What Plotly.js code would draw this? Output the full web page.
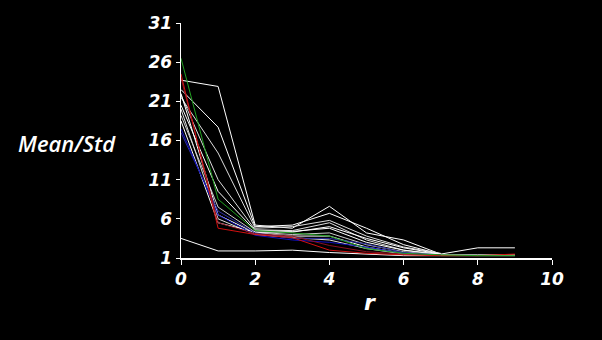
<!DOCTYPE html>
<html>
<head>
<meta charset="utf-8">
<script src="https://cdn.plot.ly/plotly-3.0.1.min.js"></script>
<style>html,body{margin:0;padding:0;background:#000;}#chart{width:602px;height:340px;}</style>
</head>
<body>
<div id="chart"></div>
<script>
// r values (x axis)
var rValues = [0, 1, 2, 3, 4, 5, 6, 7, 8, 9];
// Mean/Std series
var seriesGreen    = [26.5, 8.5, 4.5, 4.2, 3.8, 2.2, 1.6, 1.4, 1.3, 1.3];
var seriesRed      = [24.5, 4.8, 4.0, 3.6, 2.0, 1.6, 1.4, 1.3, 1.3, 1.5];
var seriesBlue     = [17.5, 6.5, 3.9, 3.3, 3.0, 2.4, 1.6, 1.3];
var seriesDarkRed  = [24.0, 5.5, 4.1, 3.8, 2.6, 1.8, 1.5, 1.4];
var seriesDarkBlue = [17.0, 7.0, 4.2, 3.5, 3.5, 2.8, 1.7, 1.4];
var seriesW1 = [23.7, 22.9, 5.2, 4.8, 7.6, 4.2, 3.3, 1.5];
var seriesW2 = [22.5, 17.7, 5.0, 5.2, 6.7, 4.8, 2.7, 1.5, 2.3, 2.3];
var seriesW3 = [21.5, 14.4, 4.8, 5.0, 5.8, 3.8, 2.4, 1.6];
var seriesW4 = [21.8, 11.0, 4.6, 4.5, 5.5, 3.3, 2.0, 1.5];
var seriesW5 = [20.5, 9.5, 4.5, 4.4, 4.8, 3.0, 2.0, 1.4, 1.4, 1.4];
var seriesW6 = [19.2, 7.5, 4.3, 4.0, 4.2, 2.7, 1.8, 1.4];
var seriesW7 = [22.0, 6.5, 4.2, 3.8, 3.8, 2.4, 1.6, 1.5];
var seriesW8 = [20.0, 6.0, 4.0, 3.6, 3.3, 2.2, 1.5, 1.4];
var seriesW9 = [18.5, 5.5, 4.3, 4.3, 5.0, 3.5, 2.3, 1.5];
var seriesW10 = [3.5, 1.9, 1.9, 2.0, 1.7, 1.5, 1.3, 1.3, 1.3, 1.3];
var yTicks = [1, 6, 11, 16, 21, 26, 31];
var xTicks = [0, 2, 4, 6, 8, 10];

var series = [
  {y: seriesW1, c: '#ffffff'},
  {y: seriesW2, c: '#ffffff'},
  {y: seriesW3, c: '#dddddd'},
  {y: seriesW4, c: '#dddddd'},
  {y: seriesW5, c: '#ffffff'},
  {y: seriesW6, c: '#cccccc'},
  {y: seriesW7, c: '#ffffff'},
  {y: seriesW8, c: '#dddddd'},
  {y: seriesW9, c: '#ffffff'},
  {y: seriesW10, c: '#ffffff'},
  {y: seriesDarkBlue, c: '#2a2aa0'},
  {y: seriesBlue, c: '#1010c0'},
  {y: seriesDarkRed, c: '#8a1020'},
  {y: seriesRed, c: '#d01010'},
  {y: seriesGreen, c: '#20a020'}
];

var traces = series.map(function(s){
  return {x: rValues.slice(0, s.y.length), y: s.y, type: 'scatter', mode: 'lines',
          line: {color: s.c, width: 1}, hoverinfo: 'skip', showlegend: false};
});

var tickFont = {family: 'DejaVu Sans', size: 17, color: '#ffffff', weight: 'bold', style: 'italic'};
var layout = {
  width: 602, height: 340,
  paper_bgcolor: '#000000', plot_bgcolor: '#000000',
  margin: {l: 181, r: 50, t: 23, b: 82},
  showlegend: false,
  xaxis: {range: [0, 10], tickvals: xTicks, ticktext: xTicks.map(String), showgrid: false, zeroline: false,
          showline: true, linecolor: '#ffffff', linewidth: 1.5, ticks: 'outside', ticklen: 5,
          tickcolor: '#ffffff', tickfont: tickFont},
  yaxis: {range: [1, 31], tickvals: yTicks, ticktext: yTicks.map(String), showgrid: false, zeroline: false,
          showline: true, linecolor: '#ffffff', linewidth: 1.5, ticks: 'outside', ticklen: 4,
          tickcolor: '#ffffff', tickfont: tickFont},
  annotations: [
    {text: 'Mean/Std', xref: 'paper', yref: 'paper', x: -0.17, y: 0.489, xanchor: 'right', yanchor: 'middle',
     showarrow: false, font: {family: 'Open Sans', size: 22, color: '#ffffff', weight: 600, style: 'italic'}},
    {text: 'r', xref: 'paper', yref: 'paper', x: 0.51, y: -0.191, xanchor: 'center', yanchor: 'middle',
     showarrow: false, font: {family: 'DejaVu Sans', size: 22, color: '#ffffff', weight: 'bold', style: 'italic'}}
  ]
};
Plotly.newPlot('chart', traces, layout, {staticPlot: true, displayModeBar: false});
</script>
</body>
</html>
